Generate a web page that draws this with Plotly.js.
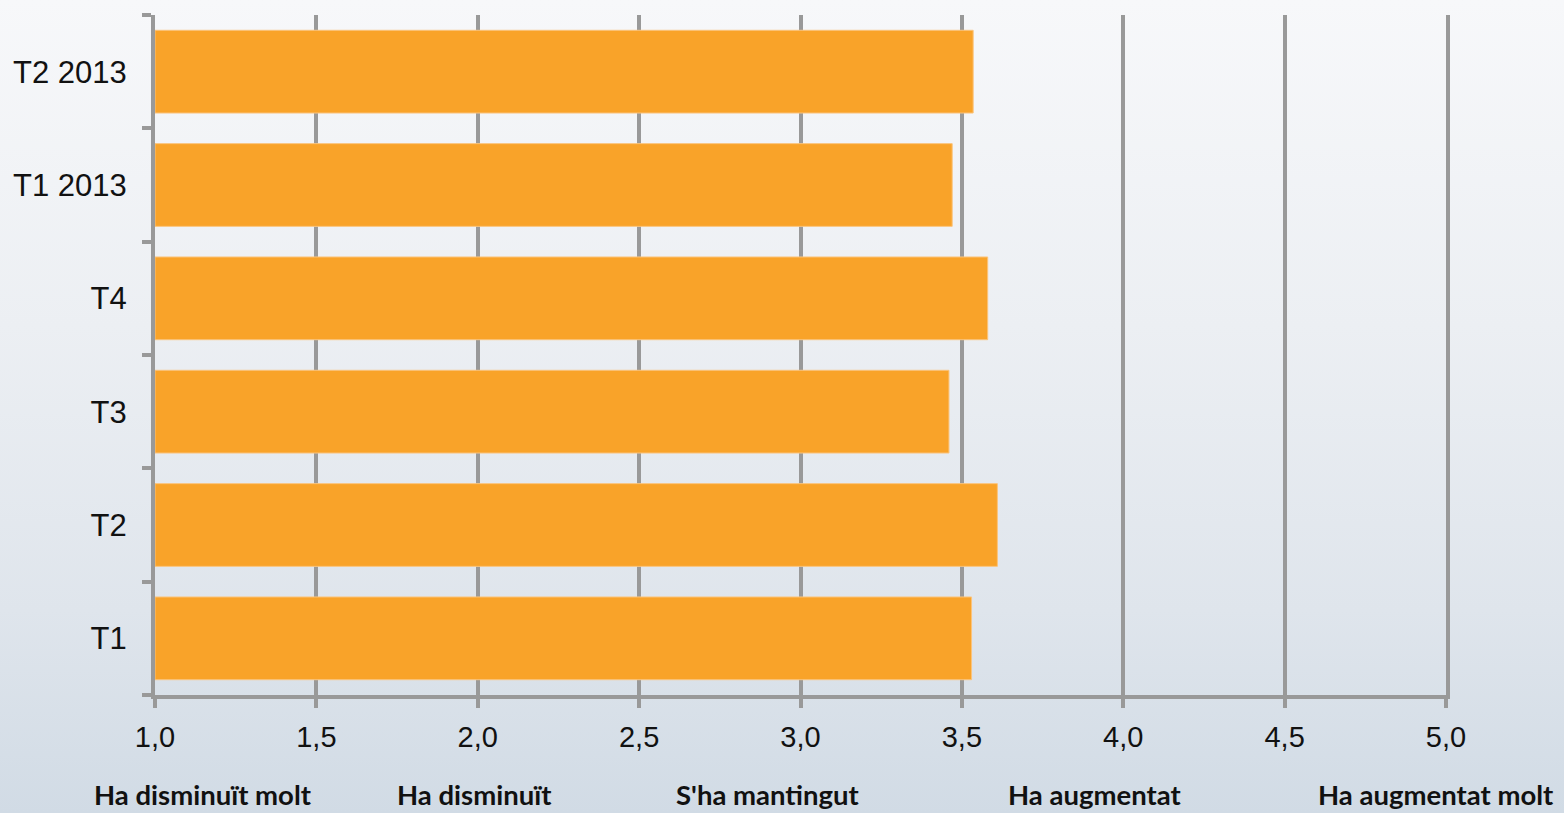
<!DOCTYPE html>
<html>
<head>
<meta charset="utf-8">
<script src="https://cdn.plot.ly/plotly-3.0.1.min.js"></script>
<style>
  html, body { margin: 0; padding: 0; width: 1564px; height: 813px; overflow: hidden; }
  body { background: linear-gradient(to bottom, #f7f8fa 0%, #eceff3 40%, #dfe5ec 75%, #d1dbe5 100%); }
  #chart { width: 1564px; height: 813px; }
</style>
</head>
<body>
<div id="chart"></div>
<script>
// Data
const categories = ["T1", "T2", "T3", "T4", "T1 2013", "T2 2013"];
const values = [3.53, 3.61, 3.46, 3.58, 3.47, 3.535];
const xTickValues = [1.0, 1.5, 2.0, 2.5, 3.0, 3.5, 4.0, 4.5, 5.0];
const xTickLabels = ["1,0", "1,5", "2,0", "2,5", "3,0", "3,5", "4,0", "4,5", "5,0"];
const scaleLabels = ["Ha disminuït molt", "Ha disminuït", "S'ha mantingut", "Ha augmentat", "Ha augmentat molt"];
const scaleLabelX = [1.149, 1.99, 2.9, 3.91, 4.97];

// bars start at 1.0 (base) and end at each value
const trace = {
  type: "bar",
  orientation: "h",
  y: categories,
  x: values.map(v => v - 1),
  base: 1,
  marker: { color: "#f9a329", line: { color: "#fbc47c", width: 1 } },
  hoverinfo: "x+y"
};

const annotations = scaleLabels.map((t, i) => ({
  text: t,
  x: scaleLabelX[i],
  xref: "x",
  y: -0.146,
  yref: "paper",
  yanchor: "middle",
  xanchor: "center",
  showarrow: false,
  font: { family: "Lato, 'Open Sans', sans-serif", size: 27.5, color: "#111111", weight: "bold" }
}));

const layout = {
  width: 1564,
  height: 813,
  margin: { l: 155, r: 118, t: 15, b: 118 },
  paper_bgcolor: "rgba(0,0,0,0)",
  plot_bgcolor: "rgba(0,0,0,0)",
  showlegend: false,
  bargap: 0.27,
  xaxis: {
    range: [1, 5],
    tickvals: xTickValues,
    ticktext: xTickLabels,
    showgrid: true,
    gridcolor: "#999999",
    gridwidth: 4,
    zeroline: false,
    showline: true,
    linecolor: "#999999",
    linewidth: 4,
    ticks: "outside",
    ticklen: 9,
    tickwidth: 4,
    tickcolor: "#999999",
    ticklabelstandoff: 4,
    tickfont: { family: "'Liberation Sans', Arial, sans-serif", size: 29, color: "#111111" },
    fixedrange: true
  },
  yaxis: {
    type: "category",
    categoryorder: "array",
    categoryarray: categories,
    showgrid: false,
    zeroline: false,
    showline: true,
    mirror: true,
    linecolor: "#999999",
    linewidth: 4,
    ticks: "outside",
    tickson: "boundaries",
    ticklen: 9,
    tickwidth: 4,
    tickcolor: "#999999",
    ticklabelstandoff: 18,
    tickfont: { family: "'Liberation Sans', Arial, sans-serif", size: 31, color: "#111111" },
    fixedrange: true
  },
  annotations: annotations
};

Plotly.newPlot("chart", [trace], layout, { displayModeBar: false, staticPlot: true });
</script>
</body>
</html>
